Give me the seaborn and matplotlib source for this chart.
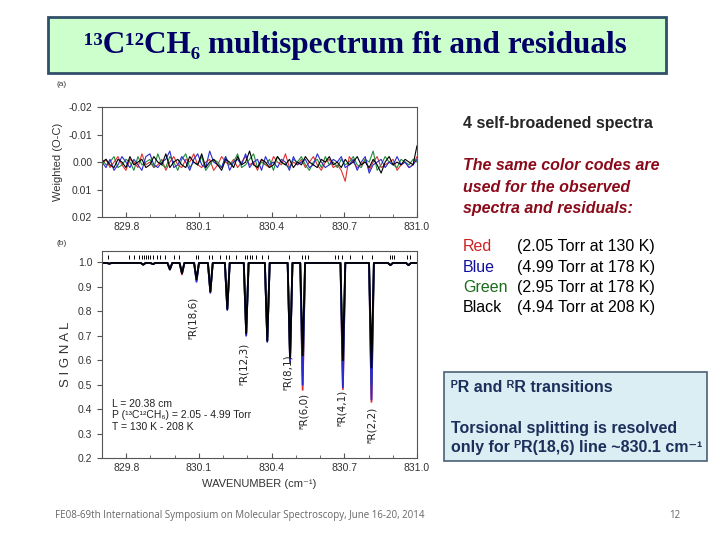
import numpy as np
import pandas as pd
import matplotlib
matplotlib.use('Agg')
import matplotlib.pyplot as plt
from matplotlib.patches import Rectangle
from matplotlib.ticker import MultipleLocator, FormatStrFormatter
import seaborn as sns

# ── DATA ──────────────────────────────────────────────────────
spectra = ['Red', 'Green', 'Blue', 'Black']
spec_colors = {'Red': '#e03030', 'Green': '#1f8a3a', 'Blue': '#2a2ad0', 'Black': '#000000'}

# line centres (cm-1) and dip minima per spectrum
line_centers = [829.73, 829.87, 829.91, 829.98, 830.03, 830.09, 830.147, 830.217,
                830.295, 830.382, 830.476, 830.528, 830.694, 830.812, 830.89, 830.965]
depth_red   = [0.994, 0.990, 0.992, 0.975, 0.950, 0.925, 0.880, 0.810,
               0.705, 0.680, 0.600, 0.479, 0.482, 0.430, 0.988, 0.988]
depth_green = [0.994, 0.990, 0.992, 0.972, 0.955, 0.930, 0.880, 0.810,
               0.710, 0.680, 0.605, 0.540, 0.540, 0.500, 0.988, 0.988]
depth_blue  = [0.994, 0.990, 0.992, 0.970, 0.955, 0.920, 0.875, 0.805,
               0.700, 0.675, 0.592, 0.500, 0.490, 0.440, 0.988, 0.988]
depth_black = [0.994, 0.990, 0.992, 0.970, 0.955, 0.930, 0.880, 0.810,
               0.710, 0.680, 0.610, 0.620, 0.600, 0.570, 0.988, 0.988]
baseline = 0.997

# calculated line positions (tick marks above spectrum)
line_marks = [829.726, 829.811, 829.832, 829.853, 829.863, 829.872, 829.880, 829.890,
              829.900, 829.911, 829.925, 829.939, 829.960, 829.997, 830.019, 830.089,
              830.096, 830.140, 830.154, 830.186, 830.210, 830.223, 830.251, 830.290,
              830.300, 830.310, 830.321, 830.335, 830.360, 830.383, 830.473, 830.526,
              830.536, 830.550, 830.661, 830.675, 830.689, 830.723, 830.772, 830.814,
              830.890, 830.897, 830.907, 830.960, 830.973, 830.998]

# weighted residuals (x1e-3), sampled evenly 829.7 - 831.0
res_red = [1, -1, 2, 0, -2, 1, 3, -1, 0, 2, -3, 1, 0, 2, 1, -1, 3, 0, -2, 1,
           2, -1, 0, -3, 1, 2, 0, -1, 3, 1, -2, 0, 1, -1, 2, 0, -2, 1, 0, 3,
           -1, 1, 2, -2, 0, 1, -3, 2, 0, 1, -1, 2, 0, -2, 1, 3, 0, -1, 2, 1,
           3, 7, -2, 0, 2, 1, -1, 3, 0, -2, 2, 1, 0, -1, 3, 1, 0, 2, 1, -2]
res_blue = [0, 2, -1, 3, 1, -2, 0, 2, -1, 1, 3, -2, -3, 1, 2, 0, -1, -4, 2, 1,
            -2, 0, 3, -1, -3, 1, 2, -4, 0, 1, 2, -2, 3, 0, -1, 1, -3, 2, 0, -1,
            3, -2, 1, 0, 2, -1, 0, 3, -2, 1, 0, -1, 2, 1, -3, 0, 2, 1, -1, 0,
            -2, 2, 1, -1, 3, 0, -2, 4, 1, 0, -1, 2, 0, 1, -2, 1, 0, 2, 1, -1]
res_green = [-1, 1, 0, -2, 2, 1, -1, 0, 3, -2, 1, 0, -1, 2, -3, 1, 2, -2, 0, 3,
             -1, -3, 2, 0, 1, -2, 3, 1, -1, 0, 2, -2, 1, 0, -3, 2, 1, -1, -3, 2,
             0, 1, -1, 3, -2, 0, 1, 2, -1, 0, -2, 1, 3, 0, -1, 2, -2, 1, 0, 2,
             -1, 1, 0, -2, 1, 2, -1, 0, -4, 3, 1, -2, 0, 1, 2, -1, 0, 1, -1, 0]
res_black = [0, -1, 1, 2, -1, 0, 2, -2, 1, 0, -1, 2, 1, -2, 0, 1, -3, 2, 0, -1,
             1, 2, -2, 0, 1, -3, 2, 0, -1, 1, 3, -1, 0, 2, -2, 1, 0, -4, 1, 2,
             -1, 0, 2, 1, -2, 0, 1, -1, 2, 0, 1, -2, 0, 1, 2, -1, 0, -2, 1, 0,
             2, -1, 1, 0, -2, 1, 0, 2, -1, 1, 4, 0, -2, 1, 0, 1, -1, 0, 1, -6]

res_lo, res_hi = 829.7, 831.0

line_labels = ['ᴾR(18,6)', 'ᴾR(12,3)', 'ᴾR(8,1)', 'ᴿR(6,0)', 'ᴿR(4,1)', 'ᴿR(2,2)']
label_x = [830.076, 830.285, 830.468, 830.535, 830.689, 830.814]
label_y = [0.773, 0.585, 0.553, 0.393, 0.405, 0.336]

# ── FRAMES ────────────────────────────────────────────────────
depths = {'Red': depth_red, 'Green': depth_green, 'Blue': depth_blue, 'Black': depth_black}
rows = []
hw = 0.010
for s in spectra:
    rows.append((s, res_lo, baseline))
    for c, d in zip(line_centers, depths[s]):
        rows += [(s, c - hw, baseline), (s, c, d), (s, c + hw, baseline)]
    rows.append((s, res_hi, baseline))
spec_df = pd.DataFrame(rows, columns=['spectrum', 'wn', 'signal'])

res_vals = {'Red': res_red, 'Green': res_green, 'Blue': res_blue, 'Black': res_black}
res_df = pd.concat([pd.DataFrame({'spectrum': s,
                                  'wn': np.linspace(res_lo, res_hi, len(res_vals[s])),
                                  'res': np.array(res_vals[s]) / 1000})
                    for s in spectra])

# ── STYLE ─────────────────────────────────────────────────────
sns.set_style('ticks')
plt.rcParams['font.family'] = ['Liberation Sans', 'DejaVu Sans']
plt.rcParams['axes.edgecolor'] = '#555555'
plt.rcParams['xtick.color'] = '#555555'
plt.rcParams['ytick.color'] = '#555555'

fig = plt.figure(figsize=(7.2, 5.4), dpi=100)
fig.patch.set_facecolor('white')

# title box
fig.patches.append(Rectangle((0.0667, 0.8648), 0.858, 0.1037, transform=fig.transFigure,
                             facecolor='#ccffcc', edgecolor='#2f4f6a', lw=2))
fig.text(0.494, 0.915, '¹³C¹²CH₆ multispectrum fit and residuals', ha='center', va='center',
         fontsize=22.5, fontweight='bold', color='#000066',
         family=['Liberation Serif', 'DejaVu Serif'])

# ── (a) residuals ─────────────────────────────────────────────
ax1 = fig.add_axes([0.1417, 0.598, 0.4375, 0.2037])
sns.lineplot(data=res_df, x='wn', y='res', hue='spectrum', hue_order=spectra,
             palette=spec_colors, estimator=None, sort=False, lw=0.8, legend=False, ax=ax1)
ax1.set_xlim(res_lo, res_hi)
ax1.set_ylim(0.02, -0.02)
ax1.set_yticks([-0.02, -0.01, 0.0, 0.01, 0.02])
ax1.yaxis.set_major_formatter(FormatStrFormatter('%.2f'))
ax1.set_ylabel('Weighted (O-C)', fontsize=8, color='#333333')
ax1.set_xlabel('')

# ── (b) spectra ───────────────────────────────────────────────
ax2 = fig.add_axes([0.1417, 0.1513, 0.4375, 0.3844])
sns.lineplot(data=spec_df, x='wn', y='signal', hue='spectrum', hue_order=spectra,
             palette=spec_colors, estimator=None, sort=False, lw=1.3, legend=False, ax=ax2)
ax2.vlines(line_marks, 1.012, 1.030, color='black', lw=0.7)
ax2.set_xlim(res_lo, res_hi)
ax2.set_ylim(0.2, 1.047)
ax2.set_yticks(np.arange(0.2, 1.01, 0.1))
ax2.yaxis.set_major_formatter(FormatStrFormatter('%.1f'))
ax2.set_ylabel('S I G N A L', fontsize=9.5, color='#333333')
ax2.set_xlabel('WAVENUMBER (cm⁻¹)', fontsize=8, color='#333333')
for t, x, y in zip(line_labels, label_x, label_y):
    ax2.text(x, y, t, rotation=90, ha='center', va='center', fontsize=7.5, color='#222222',
             family=['DejaVu Sans'])
ax2.text(829.743, 0.422, 'L = 20.38 cm', fontsize=7.5, va='center', color='#222222')
ax2.text(829.743, 0.377, 'P (¹³C¹²CH₆) = 2.05 - 4.99 Torr', fontsize=7.5, va='center',
         color='#222222')
ax2.text(829.743, 0.328, 'T = 130 K - 208 K', fontsize=7.5, va='center', color='#222222')

for ax in (ax1, ax2):
    ax.xaxis.set_major_locator(MultipleLocator(0.3))
    ax.xaxis.set_minor_locator(MultipleLocator(0.1))
    ax.set_xticks([829.8, 830.1, 830.4, 830.7, 831.0])
    ax.xaxis.set_major_formatter(FormatStrFormatter('%.1f'))
    ax.tick_params(axis='x', direction='in', labelsize=7.5, labelcolor='#333333')
    ax.tick_params(axis='x', which='minor', direction='in', length=2)
    ax.tick_params(axis='y', direction='out', labelsize=7.5, labelcolor='#333333')
    for sp in ax.spines.values():
        sp.set_visible(True)
        sp.set_linewidth(0.8)

fig.text(0.079, 0.841, '(a)', fontsize=6, color='#333333')
fig.text(0.079, 0.547, '(b)', fontsize=6, color='#333333')

# ── RIGHT-HAND NOTES ──────────────────────────────────────────
fig.text(0.643, 0.772, '4 self-broadened spectra', fontsize=11.5, fontweight='bold', va='center')
for txt, y in zip(['The same color codes are', 'used for the observed',
                   'spectra and residuals:'], [0.693, 0.652, 0.613]):
    fig.text(0.643, y, txt, fontsize=11.5, fontweight='bold', style='italic',
             color='#8b0a1a', va='center')

legend_names = ['Red', 'Blue', 'Green', 'Black']
legend_info = ['(2.05 Torr at 130 K)', '(4.99 Torr at 178 K)',
               '(2.95 Torr at 178 K)', '(4.94 Torr at 208 K)']
legend_cols = ['#cc2222', '#1010a0', '#1a6b1a', '#000000']
for name, info, col, y in zip(legend_names, legend_info, legend_cols,
                              [0.543, 0.504, 0.467, 0.430]):
    fig.text(0.643, y, name, fontsize=11.5, color=col, va='center')
    fig.text(0.718, y, info, fontsize=11.5, color='black', va='center')

fig.patches.append(Rectangle((0.6167, 0.1463), 0.365, 0.165, transform=fig.transFigure,
                             facecolor='#dbeef4', edgecolor='#4a6075', lw=1.2))
for txt, y in zip(['ᴾR and ᴿR transitions', 'Torsional splitting is resolved',
                   'only for ᴾR(18,6) line ~830.1 cm⁻¹'], [0.283, 0.2074, 0.172]):
    fig.text(0.626, y, txt, fontsize=11.5, fontweight='bold', color='#1c2f5a', va='center',
             family=['Liberation Sans', 'DejaVu Sans'])

# footer
fig.text(0.076, 0.046, 'FE08-69th International Symposium on Molecular Spectroscopy, June 16-20, 2014',
         fontsize=7, color='#666666', va='center', family=['Open Sans', 'DejaVu Sans'])
fig.text(0.93, 0.046, '12', fontsize=7, color='#666666', va='center', family=['Open Sans', 'DejaVu Sans'])

fig.savefig('out.png', dpi=100)
